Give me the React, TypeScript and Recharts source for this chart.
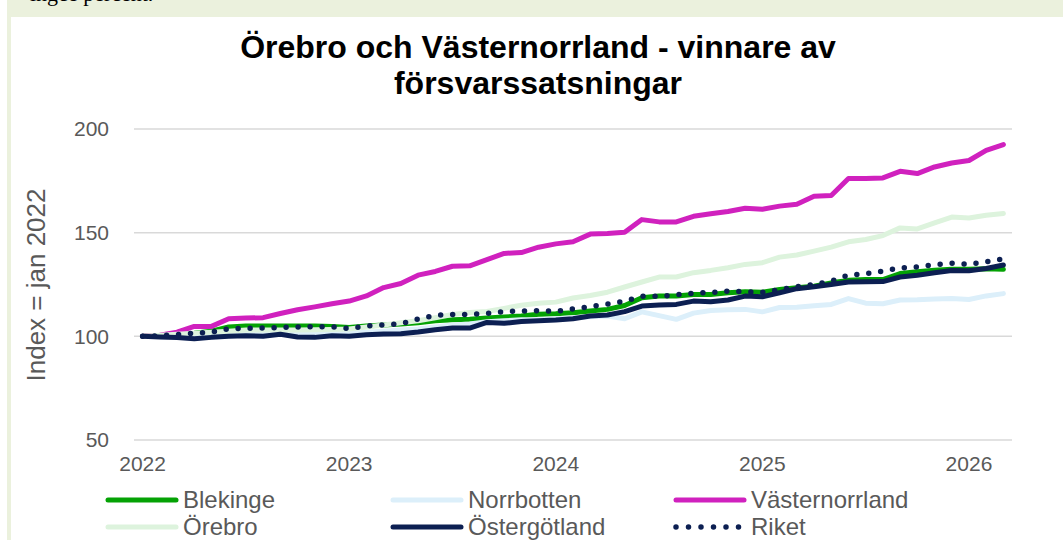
import { CartesianGrid, Line, LineChart, XAxis, YAxis } from 'recharts'

const monthIndex: number[] = [
  0, 1, 2, 3, 4, 5, 6, 7, 8, 9, 10, 11, 12, 13, 14, 15, 16, 17, 18, 19, 20, 21, 22, 23, 24, 25,
  26, 27, 28, 29, 30, 31, 32, 33, 34, 35, 36, 37, 38, 39, 40, 41, 42, 43, 44, 45, 46, 47, 48, 49, 50,
]
const yearTicks = [0, 12, 24, 36, 48]
const yearLabels = ['2022', '2023', '2024', '2025', '2026']
const yTicks = [50, 100, 150, 200]

const blekinge = [
  100, 100.3, 100.8, 101.5, 102.5, 104.5, 105, 105, 105, 105,
  105, 104.8, 104.3, 105, 105.5, 106, 106.5, 107.5, 108, 108.2,
  108.8, 109.3, 109.8, 110.6, 110.9, 111.4, 112.2, 113, 114.9, 118.6,
  119.4, 119.4, 120.2, 120.2, 121, 121.5, 121.3, 122.6, 123.4, 124.2,
  125.8, 127, 127.4, 127.4, 130.3, 131.1, 131.9, 132.3, 132.3, 132.6,
  132.3,
]
const norrbotten = [
  100, 100, 99.8, 99.5, 100, 100.5, 101, 101, 101.5, 101,
  101, 101.5, 101.5, 102, 102.5, 103, 103.5, 104.5, 105.5, 106,
  107, 107.5, 108, 108, 108.5, 109, 109.5, 109.8, 108.5, 111.8,
  110, 108.2, 111.2, 112.5, 112.8, 113, 111.8, 113.9, 114, 114.8,
  115.4, 118.2, 116, 115.7, 117.5, 117.6, 118, 118.2, 117.8, 119.5,
  120.6,
]
const vasternorrland = [
  100, 100.5, 102, 104.8, 104.8, 108.5, 108.8, 109, 111, 112.8,
  114.2, 115.7, 117, 119.5, 123.5, 125.5, 129.5, 131.3, 133.8, 134,
  137, 140, 140.4, 143, 144.6, 145.6, 149.3, 149.6, 150.2, 156.3,
  155.2, 155.2, 157.9, 159.1, 160.2, 161.8, 161.3, 162.8, 163.7, 167.6,
  167.9, 176.1, 176.1, 176.4, 179.6, 178.5, 181.7, 183.6, 184.8, 189.7,
  192.5,
]
const orebro = [
  100, 100.5, 101, 101.5, 102, 102.5, 103, 103, 103, 103,
  103.2, 103.3, 103.5, 104.5, 105.5, 106.5, 107.5, 109, 110.5, 111.5,
  112, 113.5, 115, 116, 116.5, 118.5, 119.7, 121.3, 123.8, 126.2,
  128.6, 128.6, 130.7, 131.8, 133.1, 134.7, 135.5, 138.2, 139.2, 141.1,
  143, 145.6, 146.7, 148.6, 152.3, 151.8, 154.7, 157.5, 157.1, 158.4,
  159.2,
]
const ostergotland = [
  100, 99.7, 99.4, 98.8, 99.5, 100, 100.3, 100, 101, 99.7,
  99.5, 100.3, 100, 100.8, 101.1, 101.3, 102.1, 103.2, 104, 104,
  106.7, 106.3, 107.1, 107.5, 107.9, 108.5, 109.8, 110.3, 111.9, 114.6,
  115.1, 115.4, 117, 116.7, 117.5, 119.4, 119.1, 121, 123, 123.9,
  125, 126.2, 126.3, 126.4, 128.6, 129.5, 130.7, 131.8, 131.6, 132.7,
  134.4,
]
const riket = [
  100, 100.3, 100.8, 101.5, 102, 103.7, 103.8, 104, 104.3, 104.5,
  104.6, 104.6, 103.8, 105, 105.5, 106, 108.3, 110.2, 110.5, 110.6,
  111, 112, 112.2, 112.4, 112, 113.2, 114.3, 115.5, 117, 119.3,
  119.3, 120, 120.8, 121.1, 121.8, 121.5, 121.2, 122.5, 124, 125,
  126.6, 129.5, 130.2, 131.5, 133, 133.5, 134.5, 135.2, 134.7, 136,
  137.4,
]

const chartData = monthIndex.map((i) => ({
  i,
  blekinge: blekinge[i],
  norrbotten: norrbotten[i],
  vasternorrland: vasternorrland[i],
  orebro: orebro[i],
  ostergotland: ostergotland[i],
  riket: riket[i],
}))

const series = [
  { key: 'blekinge', name: 'Blekinge', color: '#04a204', dotted: false },
  { key: 'norrbotten', name: 'Norrbotten', color: '#dceffa', dotted: false },
  { key: 'vasternorrland', name: 'Västernorrland', color: '#d021be', dotted: false },
  { key: 'orebro', name: 'Örebro', color: '#ddf3dd', dotted: false },
  { key: 'ostergotland', name: 'Östergötland', color: '#0c1f52', dotted: false },
  { key: 'riket', name: 'Riket', color: '#0c1f52', dotted: true },
]

const font = '"Liberation Sans", Arial, sans-serif'
const grey = '#595959'

const legendCols = [105, 390, 673]
const legendRows = [500, 527]

export default function App() {
  return (
    <div style={{ position: 'absolute', left: 0, top: 0, width: 1063, height: 540, background: '#fff', overflow: 'hidden', fontFamily: font }}>
      <div style={{ position: 'absolute', left: 7, top: 0, width: 1056, height: 540, background: '#ebf1dd' }} />
      <div style={{ position: 'absolute', left: 30, top: -19, fontFamily: 'serif', fontSize: 22, color: '#000', whiteSpace: 'nowrap' }}>
        ingce percent.
      </div>
      <div style={{ position: 'absolute', left: 11, top: 17, width: 1052, height: 523, background: '#fff' }} />

      <div style={{ position: 'absolute', left: 0, top: 0 }}>
        <LineChart width={1063} height={540} data={chartData} margin={{ top: 129, right: 51, bottom: 70, left: 74 }}>
          <CartesianGrid vertical={false} stroke="#d9d9d9" strokeWidth={1.5} />
          <XAxis
            dataKey="i"
            type="number"
            domain={[-0.5, 50.5]}
            ticks={yearTicks}
            tickFormatter={(v: number) => yearLabels[yearTicks.indexOf(v)]}
            axisLine={false}
            tickLine={false}
            tickSize={0}
            tickMargin={16}
            height={30}
            tick={{ fill: grey, fontSize: 21, fontFamily: font }}
          />
          <YAxis
            domain={[50, 200]}
            ticks={yTicks}
            axisLine={false}
            tickLine={false}
            tickSize={0}
            tickMargin={25}
            width={60}
            tick={{ fill: grey, fontSize: 21, fontFamily: font }}
          />
          {series.map((s) => (
            <Line
              key={s.key}
              dataKey={s.key}
              name={s.name}
              type="linear"
              stroke={s.color}
              strokeWidth={s.dotted ? 5.5 : 5}
              strokeDasharray={s.dotted ? '0 12' : undefined}
              strokeLinecap="round"
              strokeLinejoin="round"
              dot={false}
              activeDot={false}
              isAnimationActive={false}
            />
          ))}
        </LineChart>
      </div>

      <div style={{ position: 'absolute', left: 538, top: 65, transform: 'translate(-50%, -50%)', textAlign: 'center', fontWeight: 'bold', fontSize: 32, lineHeight: '36px', color: '#000', whiteSpace: 'nowrap' }}>
        Örebro och Västernorrland - vinnare av
        <br />
        försvarssatsningar
      </div>

      <div style={{ position: 'absolute', left: 36, top: 285, transform: 'translate(-50%, -50%) rotate(-90deg)', fontSize: 26, color: grey, whiteSpace: 'nowrap' }}>
        Index = jan 2022
      </div>

      {series.map((s, n) => {
        const x = legendCols[n % 3]
        const y = legendRows[Math.floor(n / 3)]
        return (
          <div key={s.key}>
            <svg style={{ position: 'absolute', left: x, top: y - 5 }} width={74} height={10}>
              <line
                x1={3}
                y1={5}
                x2={71}
                y2={5}
                stroke={s.color}
                strokeWidth={s.dotted ? 5.5 : 5}
                strokeLinecap="round"
                strokeDasharray={s.dotted ? '0 12.5' : undefined}
              />
            </svg>
            <div style={{ position: 'absolute', left: x + 78, top: y - 15, fontSize: 24, lineHeight: '30px', color: grey, whiteSpace: 'nowrap' }}>
              {s.name}
            </div>
          </div>
        )
      })}
    </div>
  )
}
